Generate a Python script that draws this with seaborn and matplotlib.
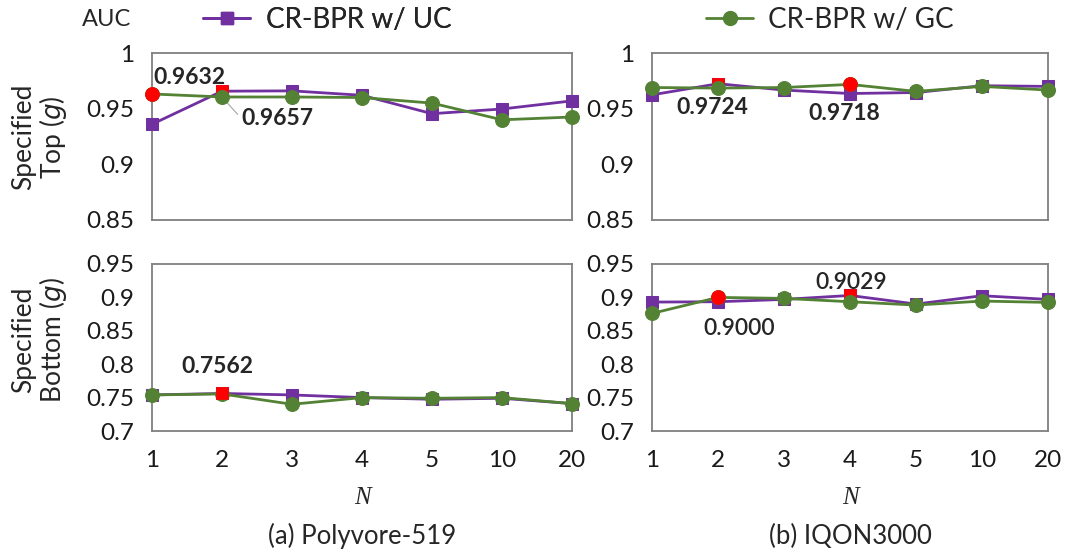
import matplotlib
matplotlib.use("Agg")
import matplotlib.pyplot as plt
import seaborn as sns
import pandas as pd
from matplotlib.lines import Line2D

# ---------------- data ----------------
n_labels = ['1', '2', '3', '4', '5', '10', '20']
methods = ['CR-BPR w/ UC', 'CR-BPR w/ GC']

poly_top_uc = [0.936, 0.9657, 0.966, 0.962, 0.9455, 0.9497, 0.957]
poly_top_gc = [0.9632, 0.9605, 0.9605, 0.960, 0.955, 0.940, 0.9425]
iqon_top_uc = [0.9624, 0.9724, 0.9667, 0.9636, 0.9645, 0.9706, 0.970]
iqon_top_gc = [0.969, 0.9685, 0.969, 0.9718, 0.9655, 0.970, 0.9667]
poly_bot_uc = [0.754, 0.7562, 0.754, 0.750, 0.7475, 0.749, 0.741]
poly_bot_gc = [0.754, 0.7555, 0.740, 0.750, 0.749, 0.750, 0.741]
iqon_bot_uc = [0.893, 0.8935, 0.897, 0.9029, 0.890, 0.9025, 0.897]
iqon_bot_gc = [0.876, 0.9000, 0.8985, 0.8935, 0.8885, 0.8945, 0.8925]

# best-value points (index into n_labels) shown in red
poly_top_best = {'uc': [1], 'gc': [0]}
iqon_top_best = {'uc': [1], 'gc': [3]}
poly_bot_best = {'uc': [1], 'gc': []}
iqon_bot_best = {'uc': [3], 'gc': [1]}

# ---------------- style ----------------
sns.set_theme(style="white")
plt.rcParams['font.family'] = ['Lato', 'DejaVu Sans']
PURPLE = '#7030A0'
GREEN = '#548235'
RED = '#FF0000'
FRAME = '#7f7f7f'
LW = 2.0

fig = plt.figure(figsize=(10.91, 5.56), dpi=100)
W, H = 1091, 556


def add_ax(x0, y0, x1, y1):
    return fig.add_axes([x0 / W, 1 - y1 / H, (x1 - x0) / W, (y1 - y0) / H])


ax_pt = add_ax(152, 53, 572, 220)
ax_it = add_ax(652, 53, 1048, 220)
ax_pb = add_ax(152, 264, 572, 431)
ax_ib = add_ax(652, 264, 1048, 431)

pos = list(range(len(n_labels)))


def draw(ax, uc, gc, best, ylim, yticks, ylabels, bottom, best_on_top=False):
    z = 3.0
    for vals, col, mk, key, ms in [(uc, PURPLE, 's', 'uc', 9), (gc, GREEN, 'o', 'gc', 10)]:
        df = pd.DataFrame({'N': pos, 'AUC': vals})
        sns.lineplot(data=df, x='N', y='AUC', ax=ax, color=col, marker=mk,
                     markersize=ms, markeredgecolor=col, linewidth=LW,
                     clip_on=False, zorder=z)
        if best[key]:
            dfb = df.iloc[best[key]]
            sns.scatterplot(data=dfb, x='N', y='AUC', ax=ax, color=RED,
                            marker=mk, s=ms ** 2, edgecolor=RED, linewidth=0.5,
                            clip_on=False, zorder=(4 if best_on_top else z + 0.1))
        z += 0.2
    ax.set_xlim(0, len(n_labels) - 1)
    ax.set_ylim(*ylim)
    ax.set_yticks(yticks)
    ax.set_yticklabels(ylabels)
    ax.set_xticks(pos)
    if bottom:
        ax.set_xticklabels(n_labels)
    else:
        ax.set_xticklabels([])
    ax.set_xlabel('')
    ax.set_ylabel('')
    ax.tick_params(axis='both', direction='in', length=7, width=1.1,
                   color='#404040', labelsize=17.5, labelcolor='#1a1a1a')
    ax.tick_params(axis='y', pad=13)
    ax.tick_params(axis='x', pad=14)
    for s in ax.spines.values():
        s.set_color(FRAME)
        s.set_linewidth(1.3)
    xt = ax.xaxis.get_major_ticks()
    xt[0].tick1line.set_visible(False)
    xt[-1].tick1line.set_visible(False)
    yt = ax.yaxis.get_major_ticks()
    yt[0].tick1line.set_visible(False)
    yt[-1].tick1line.set_visible(False)


top_ticks = [0.85, 0.9, 0.95, 1.0]
top_labels = ['0.85', '0.9', '0.95', '1']
bot_ticks = [0.7, 0.75, 0.8, 0.85, 0.9, 0.95]
bot_labels = ['0.7', '0.75', '0.8', '0.85', '0.9', '0.95']

draw(ax_pt, poly_top_uc, poly_top_gc, poly_top_best, (0.85, 1.0), top_ticks, top_labels, False)
draw(ax_it, iqon_top_uc, iqon_top_gc, iqon_top_best, (0.85, 1.0), top_ticks, top_labels, False)
draw(ax_pb, poly_bot_uc, poly_bot_gc, poly_bot_best, (0.7, 0.95), bot_ticks, bot_labels, True,
     best_on_top=True)
draw(ax_ib, iqon_bot_uc, iqon_bot_gc, iqon_bot_best, (0.7, 0.95), bot_ticks, bot_labels, True)

# ---------------- annotations ----------------
afs = 16.5
ax_pt.text(0.02, 0.978, f'{poly_top_gc[0]:.4f}', ha='left', va='center',
           fontsize=afs, fontweight='bold', zorder=5)
ax_pt.annotate(f'{poly_top_uc[1]:.4f}', xy=(1.0, poly_top_gc[1]), xytext=(1.27, 0.9416),
               ha='left', va='center', fontsize=afs, fontweight='bold',
               arrowprops=dict(arrowstyle='-', color='#a6a6a6', lw=0.8,
                               shrinkA=0, shrinkB=0,
                               relpos=(0, 0.5)))
ax_it.text(0.91, 0.9506, f'{iqon_top_uc[1]:.4f}', ha='center', va='center',
           fontsize=afs, fontweight='bold')
ax_it.annotate(f'{iqon_top_gc[3]:.4f}', xy=(3.0, 0.969), xytext=(2.92, 0.946),
               ha='center', va='center', fontsize=afs, fontweight='bold',
               arrowprops=dict(arrowstyle='-', color='#a6a6a6', lw=0.8,
                               shrinkA=8, shrinkB=0))
ax_pb.text(0.94, 0.797, f'{poly_bot_uc[1]:.4f}', ha='center', va='center',
           fontsize=afs, fontweight='bold')
ax_ib.text(3.02, 0.923, f'{iqon_bot_uc[3]:.4f}', ha='center', va='center',
           fontsize=afs, fontweight='semibold')
ax_ib.annotate(f'{iqon_bot_gc[1]:.4f}', xy=(1.0, iqon_bot_gc[1]), xytext=(1.32, 0.853),
               ha='center', va='center', fontsize=afs, fontweight='semibold',
               arrowprops=dict(arrowstyle='-', color='#a6a6a6', lw=0.8,
                               shrinkA=12, shrinkB=0))

# ---------------- labels ----------------
fig.text(40 / W, 1 - 137 / H, 'Specified\nTop ($\\mathit{g}$)', rotation=90,
         ha='center', va='center', multialignment='center', fontsize=19,
         linespacing=1.05)
fig.text(40 / W, 1 - 340 / H, 'Specified\nBottom ($\\mathit{g}$)', rotation=90,
         ha='center', va='center', multialignment='center', fontsize=19,
         linespacing=1.05)
fig.text(107 / W, 1 - 20 / H, 'AUC', ha='center', va='center', fontsize=17)

for cx, title in [(362, '(a) Polyvore-519'), (850, '(b) IQON3000')]:
    fig.text(cx / W, 1 - 498 / H, 'N', ha='center', va='center', fontsize=18,
             family='Liberation Serif', style='italic')
    fig.text(cx / W, 1 - 536 / H, title, ha='center', va='center', fontsize=18.5)

# legend
h_uc = Line2D([], [], color=PURPLE, marker='s', markersize=9, linewidth=LW)
h_gc = Line2D([], [], color=GREEN, marker='o', markersize=10, linewidth=LW)
leg1 = fig.legend([h_uc], [methods[0]], loc='center left',
                  bbox_to_anchor=(203 / W, 1 - 20 / H), frameon=False,
                  fontsize=20, handlelength=1.7, handletextpad=0.55,
                  borderaxespad=0, borderpad=0)
fig.legend([h_gc], [methods[1]], loc='center left',
           bbox_to_anchor=(706 / W, 1 - 20 / H), frameon=False,
           fontsize=20, handlelength=1.7, handletextpad=0.55,
           borderaxespad=0, borderpad=0)
fig.add_artist(leg1)

fig.savefig('out.png', dpi=100)
